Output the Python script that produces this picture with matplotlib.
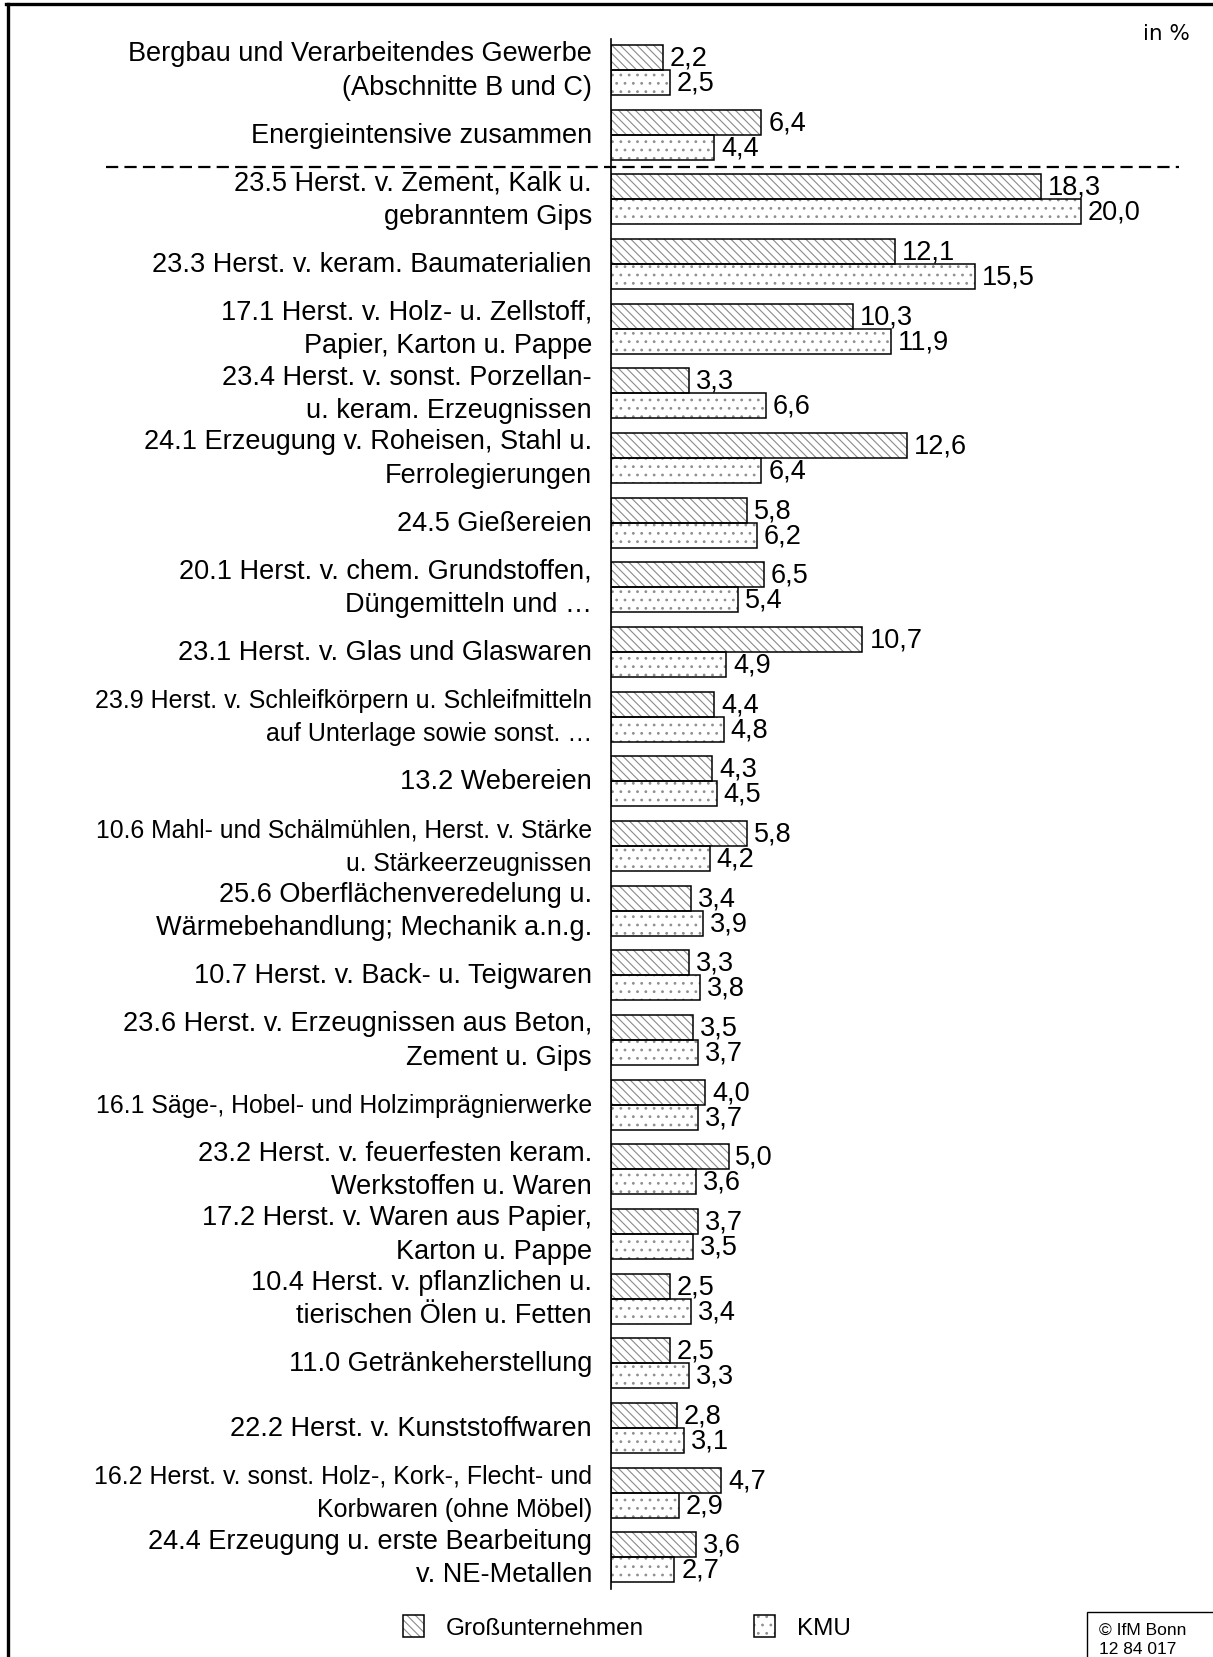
import matplotlib
matplotlib.use("Agg")
import matplotlib.pyplot as plt
from matplotlib.patches import Patch, Rectangle
from matplotlib.lines import Line2D
from matplotlib.legend_handler import HandlerTuple
from matplotlib.transforms import blended_transform_factory, offset_copy
import numpy as np

plt.rcParams['font.family'] = ['Liberation Sans', 'DejaVu Sans']
plt.rcParams['hatch.linewidth'] = 0.8

categories = [
    "Bergbau und Verarbeitendes Gewerbe\n(Abschnitte B und C)",
    "Energieintensive zusammen",
    "23.5 Herst. v. Zement, Kalk u.\ngebranntem Gips",
    "23.3 Herst. v. keram. Baumaterialien",
    "17.1 Herst. v. Holz- u. Zellstoff,\nPapier, Karton u. Pappe",
    "23.4 Herst. v. sonst. Porzellan-\nu. keram. Erzeugnissen",
    "24.1 Erzeugung v. Roheisen, Stahl u.\nFerrolegierungen",
    "24.5 Gießereien",
    "20.1 Herst. v. chem. Grundstoffen,\nDüngemitteln und …",
    "23.1 Herst. v. Glas und Glaswaren",
    "23.9 Herst. v. Schleifkörpern u. Schleifmitteln\nauf Unterlage sowie sonst. …",
    "13.2 Webereien",
    "10.6 Mahl- und Schälmühlen, Herst. v. Stärke\nu. Stärkeerzeugnissen",
    "25.6 Oberflächenveredelung u.\nWärmebehandlung; Mechanik a.n.g.",
    "10.7 Herst. v. Back- u. Teigwaren",
    "23.6 Herst. v. Erzeugnissen aus Beton,\nZement u. Gips",
    "16.1 Säge-, Hobel- und Holzimprägnierwerke",
    "23.2 Herst. v. feuerfesten keram.\nWerkstoffen u. Waren",
    "17.2 Herst. v. Waren aus Papier,\nKarton u. Pappe",
    "10.4 Herst. v. pflanzlichen u.\ntierischen Ölen u. Fetten",
    "11.0 Getränkeherstellung",
    "22.2 Herst. v. Kunststoffwaren",
    "16.2 Herst. v. sonst. Holz-, Kork-, Flecht- und\nKorbwaren (ohne Möbel)",
    "24.4 Erzeugung u. erste Bearbeitung\nv. NE-Metallen",
]
gross = [2.2, 6.4, 18.3, 12.1, 10.3, 3.3, 12.6, 5.8, 6.5, 10.7, 4.4, 4.3, 5.8,
         3.4, 3.3, 3.5, 4.0, 5.0, 3.7, 2.5, 2.5, 2.8, 4.7, 3.6]
kmu = [2.5, 4.4, 20.0, 15.5, 11.9, 6.6, 6.4, 6.2, 5.4, 4.9, 4.8, 4.5, 4.2,
       3.9, 3.8, 3.7, 3.7, 3.6, 3.5, 3.4, 3.3, 3.1, 2.9, 2.7]
series_names = ["Großunternehmen", "KMU"]

W, H = 1213, 1658
fig = plt.figure(figsize=(W / 100, H / 100), dpi=100)
ax_l, ax_r, ax_t, ax_b = 611, 1180, 40, 1590
ax = fig.add_axes([ax_l / W, 1 - ax_b / H, (ax_r - ax_l) / W, (ax_b - ax_t) / H])

pxu = 23.5
ax.set_xlim(0, (ax_r - ax_l) / pxu)
ax.set_ylim(23.49, -0.48)

y = np.arange(len(categories))
h = 25 / 64.7
grey = '#8a8a8a'
dotgrey = '#8f8f8f'
fs_lab = 19.5
fs_val = 19.5
ls_base = 1.38

# hatched fills
ax.barh(y - h / 2, gross, height=h, color='white', edgecolor=grey, hatch='\\\\\\\\', linewidth=0)
ax.barh(y + h / 2, kmu, height=h, color='white', edgecolor=dotgrey, hatch='..', linewidth=0)
# outlines
ax.barh(y - h / 2, gross, height=h, fill=False, edgecolor='black', linewidth=1.1)
ax.barh(y + h / 2, kmu, height=h, fill=False, edgecolor='black', linewidth=1.1)

def fmt(v):
    return f"{v:.1f}".replace('.', ',')

for yi, g, k in zip(y, gross, kmu):
    ax.annotate(fmt(g), (g, yi - h / 2), xytext=(5, 0), textcoords='offset points',
                ha='left', va='center', fontsize=fs_val)
    ax.annotate(fmt(k), (k, yi + h / 2), xytext=(5, 0), textcoords='offset points',
                ha='left', va='center', fontsize=fs_val)

# category labels
trans = offset_copy(blended_transform_factory(ax.transAxes, ax.transData),
                    fig=fig, x=-19, y=0, units='dots')
labels = []
for yi, c in zip(y, categories):
    t = ax.text(0, yi, c, transform=trans, ha='right', va='center',
                fontsize=fs_lab, linespacing=ls_base, multialignment='right')
    labels.append(t)

ax.set_yticks([])
ax.set_xticks([])
for s in ['top', 'right', 'bottom']:
    ax.spines[s].set_visible(False)
ax.spines['left'].set_linewidth(1.2)

# shrink long labels to fit the available width (reference compresses them)
max_w = 500
fig.canvas.draw()
r = fig.canvas.get_renderer()
for t in labels:
    w = t.get_window_extent(r).width
    if w > max_w:
        ns = fs_lab * max_w / w
        t.set_fontsize(ns)
        t.set_linespacing(ls_base * fs_lab / ns)

# dashed separator
ax.add_line(Line2D([(106 - ax_l) / pxu, (1179 - ax_l) / pxu], [1.5, 1.5],
                   color='black', linewidth=1.6, dashes=(5.5, 2.8), clip_on=False))

# in %
fig.text(1190 / W, 1 - 34 / H, "in %", ha='right', va='center', fontsize=15.5,
         family=['DejaVu Sans'])

# legend
h1 = (Patch(facecolor='white', edgecolor=grey, hatch='\\\\\\\\', linewidth=0),
      Patch(facecolor='none', edgecolor='black', linewidth=1.1))
h2 = (Patch(facecolor='white', edgecolor=dotgrey, hatch='..', linewidth=0),
      Patch(facecolor='none', edgecolor='black', linewidth=1.1))
fig.legend([h1, h2], series_names, handler_map={tuple: HandlerTuple(ndivide=1)},
           loc='center', bbox_to_anchor=(627 / W, 1 - 1628 / H), ncol=2,
           frameon=False, fontsize=17.5, handlelength=0.85, handleheight=1.05,
           handletextpad=0.9, columnspacing=4.55)

# frame
fig.add_artist(Line2D([7.5 / W, 7.5 / W], [0, 1 - 5 / H], transform=fig.transFigure,
                      color='black', linewidth=2.4))
fig.add_artist(Line2D([6 / W, 1], [1 - 5 / H, 1 - 5 / H], transform=fig.transFigure,
                      color='black', linewidth=2.4))

# copyright box
fig.add_artist(Rectangle((1087 / W, -0.01), 0.2, (H - 1613) / H + 0.01,
                         transform=fig.transFigure, fill=False, edgecolor='black', linewidth=1.0))
fig.text(1099 / W, 1 - 1630 / H, "© IfM Bonn", ha='left', va='center', fontsize=12.5)
fig.text(1099 / W, 1 - 1650 / H, "12 84 017", ha='left', va='center', fontsize=12.5)

fig.savefig("out.png", dpi=100)
